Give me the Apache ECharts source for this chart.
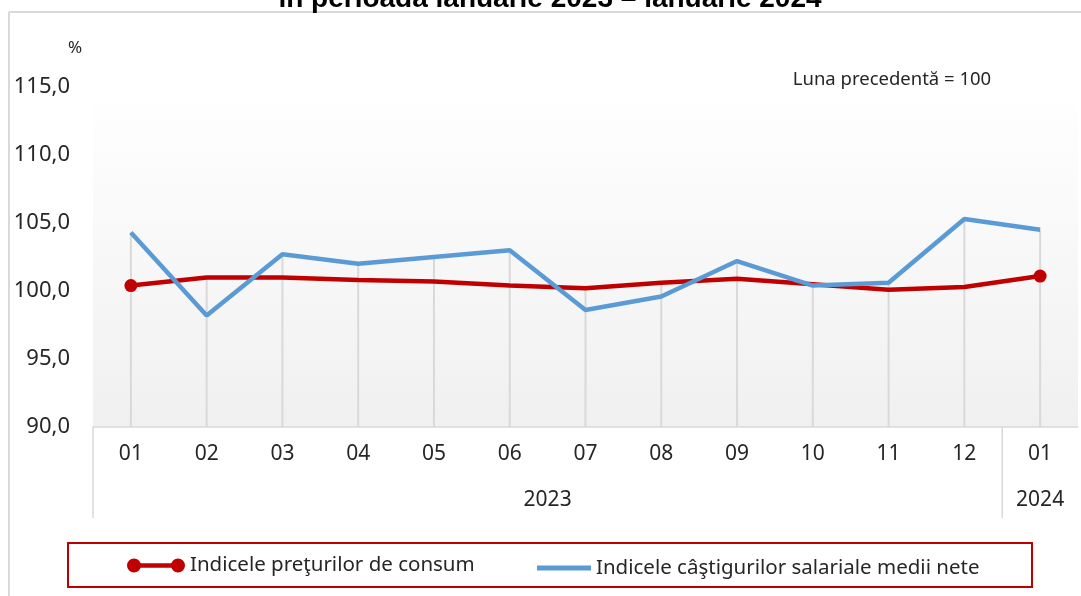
<!DOCTYPE html>
<html>
<head>
<meta charset="utf-8">
<script src="https://cdn.jsdelivr.net/npm/echarts@6/dist/echarts.min.js"></script>
<style>html,body{margin:0;padding:0;background:#fff}#c{width:1081px;height:596px}</style>
</head>
<body>
<div id="c"></div>
<script>
const months = ['01','02','03','04','05','06','07','08','09','10','11','12','01'];
const years = ['2023','2024'];
const yearSpans = [12, 1];
const cpiName = 'Indicele preţurilor de consum';
const wageName = 'Indicele câştigurilor salariale medii nete';
const cpi = [100.4, 101.0, 101.0, 100.8, 100.7, 100.4, 100.2, 100.6, 100.9, 100.5, 100.1, 100.3, 101.1];
const wages = [104.3, 98.2, 102.7, 102.0, 102.5, 103.0, 98.6, 99.6, 102.2, 100.4, 100.6, 105.3, 104.5];
const yMin = 90, yMax = 115, yStep = 5;
const titleText = 'în perioada ianuarie 2023 – ianuarie 2024';
const unitText = '%';
const noteText = 'Luna precedentă = 100';

const FONT = '"Noto Sans", sans-serif';
const TXT = '#262626';

// year group centers and boundaries
const yearCenters = [], yearBounds = [];
let start = -0.5;
yearSpans.forEach((s) => { yearBounds.push(start); yearCenters.push(start + s / 2); start += s; });

const dropTops = cpi.map((v, i) => [i, Math.max(v, wages[i])]);
const cpiData = cpi.map((v, i) => (i === 0 || i === cpi.length - 1)
  ? { value: v, symbol: 'circle', symbolSize: 13 }
  : { value: v, symbol: 'none' });

const chart = echarts.init(document.getElementById('c'));
chart.setOption({
  animation: false,
  backgroundColor: '#ffffff',
  grid: {
    left: 93, right: -37, top: 87, bottom: 169,
    show: true, borderWidth: 0,
    backgroundColor: new echarts.graphic.LinearGradient(0, 0, 0, 1, [
      { offset: 0, color: '#ffffff' }, { offset: 1, color: '#f0f0f0' }])
  },
  legend: [
    {
      data: [{ name: cpiName, icon: 'path://M0,7A7,7 0 1,1 14,7A7,7 0 1,1 0,7Z M7,4.8L51,4.8L51,9.2L7,9.2Z M44,7A7,7 0 1,1 58,7A7,7 0 1,1 44,7Z' }],
      left: 127, top: 555, itemWidth: 58, itemHeight: 14, itemGap: 0, padding: 0,
      textStyle: { fontFamily: FONT, fontSize: 20.5, color: TXT }
    },
    {
      data: [{ name: wageName, icon: 'rect' }],
      left: 537, top: 557.5, itemWidth: 54, itemHeight: 5, itemGap: 0, padding: 0,
      textStyle: { fontFamily: FONT, fontSize: 20.5, color: TXT }
    }
  ],
  xAxis: [
    {
      type: 'category', data: months, boundaryGap: true,
      axisLine: { show: true, lineStyle: { color: '#d9d9d9', width: 1.5 } },
      axisTick: { show: false },
      axisLabel: { margin: 17, fontFamily: FONT, fontSize: 21, color: TXT, interval: 0 },
      splitLine: { show: false }
    },
    {
      type: 'value', min: -0.5, max: months.length - 0.5, interval: 0.5, position: 'bottom',
      axisLine: { show: false }, axisTick: { show: false }, splitLine: { show: false },
      axisLabel: {
        margin: 63, fontFamily: FONT, fontSize: 21, color: TXT,
        showMinLabel: true, showMaxLabel: true,
        formatter: (v) => { const k = yearCenters.findIndex(c => Math.abs(c - v) < 1e-6); return k >= 0 ? years[k] : ''; }
      }
    }
  ],
  yAxis: {
    type: 'value', min: yMin, max: yMax, interval: yStep,
    axisLine: { show: false }, axisTick: { show: false }, splitLine: { show: false },
    axisLabel: { margin: 23, fontFamily: FONT, fontSize: 22, color: TXT,
      formatter: (v) => v.toFixed(1).replace('.', ',') }
  },
  series: [
    {
      type: 'custom', xAxisIndex: 1, z: 1, silent: true, clip: false,
      data: dropTops,
      renderItem: (params, api) => {
        const p1 = api.coord([api.value(0), api.value(1)]);
        const p2 = api.coord([api.value(0), yMin]);
        return { type: 'line', shape: { x1: p1[0], y1: p1[1], x2: p2[0], y2: p2[1] },
          style: { stroke: '#d9d9d9', lineWidth: 2 } };
      }
    },
    {
      type: 'custom', xAxisIndex: 1, z: 1, silent: true, clip: false,
      data: yearBounds.map(b => [b, yMin]),
      renderItem: (params, api) => {
        const p = api.coord([api.value(0), api.value(1)]);
        return { type: 'line', shape: { x1: p[0], y1: p[1], x2: p[0], y2: p[1] + 91 },
          style: { stroke: '#d9d9d9', lineWidth: 1.5 } };
      }
    },
    {
      name: cpiName, type: 'line', data: cpiData, z: 3,
      showSymbol: true, showAllSymbol: true,
      lineStyle: { color: '#c00000', width: 4.5 },
      itemStyle: { color: '#c00000' }
    },
    {
      name: wageName, type: 'line', data: wages, z: 4, symbol: 'none',
      lineStyle: { color: '#5b9bd5', width: 4.5 },
      itemStyle: { color: '#5b9bd5' }
    }
  ],
  graphic: [
    { type: 'line', shape: { x1: 9, y1: 12, x2: 1081, y2: 12 }, style: { stroke: '#d9d9d9', lineWidth: 2 }, z: 0 },
    { type: 'line', shape: { x1: 9, y1: 12, x2: 9, y2: 596 }, style: { stroke: '#d9d9d9', lineWidth: 2 }, z: 0 },
    { type: 'text', style: { text: titleText, x: 550, y: 13, align: 'center', verticalAlign: 'bottom',
      font: 'bold 28px "Liberation Sans", sans-serif', fill: '#000' }, z: 10 },
    { type: 'text', style: { text: unitText, x: 75, y: 48, align: 'center', verticalAlign: 'middle',
      font: '17px "Noto Sans", sans-serif', fill: TXT } },
    { type: 'text', style: { text: noteText, x: 892, y: 80, align: 'center', verticalAlign: 'middle',
      font: '18.5px "Noto Sans", sans-serif', fill: TXT } },
    { type: 'rect', shape: { x: 68, y: 543, width: 964, height: 44 },
      style: { fill: 'none', stroke: '#c00000', lineWidth: 2 }, z: 0 }
  ]
});
</script>
</body>
</html>
